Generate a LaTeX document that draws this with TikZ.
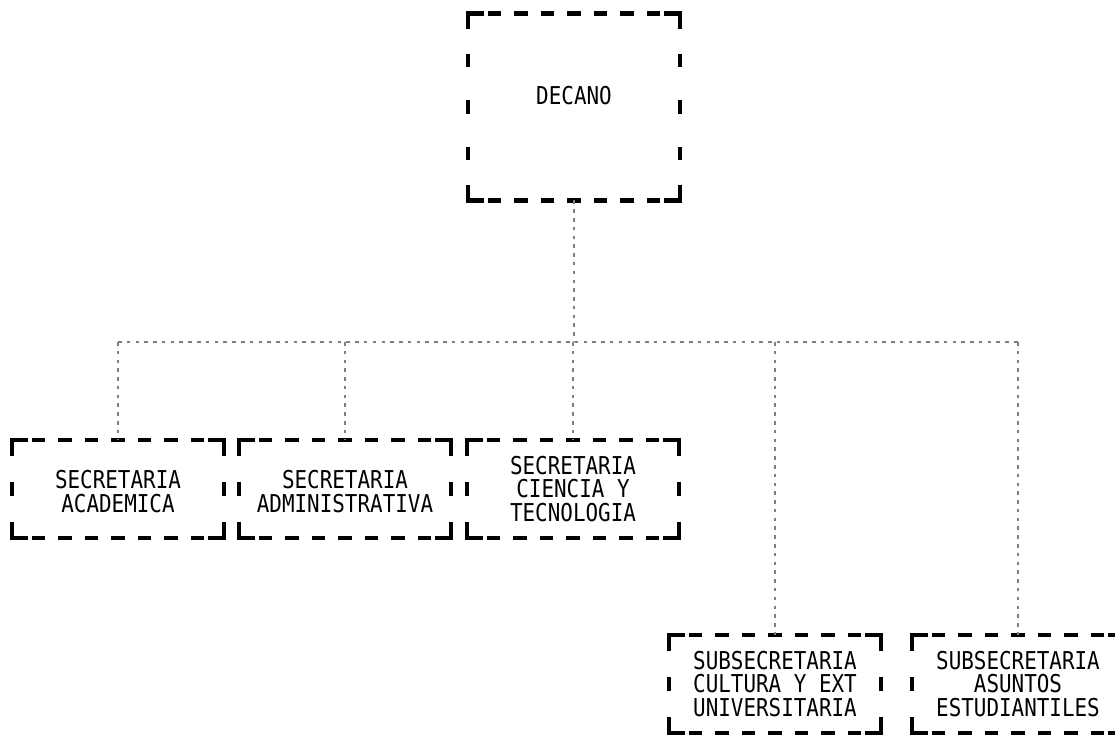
\documentclass[tikz,border=0pt]{standalone}
\usepackage{fontspec}
\newfontfamily\orgfont[FakeStretch=0.85]{DejaVu Sans Mono}
\usetikzlibrary{calc}
\tikzset{
  orgbox/.style={rectangle,inner sep=0pt,outer sep=0pt,minimum width=4.24cm,minimum height=1.96cm,align=center,font=\orgfont\fontsize{14}{13.2}\selectfont},
  headbox/.style={orgbox,minimum height=3.74cm},
  frameline/.style={line width=2.6pt,draw=black},
  link/.style={line width=0.6pt,draw=black!50,dash pattern=on 2pt off 3pt}
}
\newcommand{\framedash}{7.5}
\newcommand{\framecorner}{9pt}
% dashed frame with solid corners round a node: #2 steps across, #3 steps down
\newcommand{\orgframe}[3]{%
  \pgfpointdiff{\pgfpointanchor{#1}{south west}}{\pgfpointanchor{#1}{north east}}%
  \pgfgetlastxy{\framew}{\frameh}%
  \pgfmathsetmacro{\hgap}{\framew/#2-\framedash}%
  \pgfmathsetmacro{\vgap}{\frameh/#3-\framedash}%
  \pgfmathsetmacro{\halfdash}{\framedash/2}%
  \draw[frameline,dash pattern=on \framedash pt off \hgap pt,dash phase=\halfdash pt] (#1.north west) -- (#1.north east);
  \draw[frameline,dash pattern=on \framedash pt off \hgap pt,dash phase=\halfdash pt] (#1.south west) -- (#1.south east);
  \draw[frameline,dash pattern=on \framedash pt off \vgap pt,dash phase=\halfdash pt] (#1.north west) -- (#1.south west);
  \draw[frameline,dash pattern=on \framedash pt off \vgap pt,dash phase=\halfdash pt] (#1.north east) -- (#1.south east);
  \draw[frameline] ([yshift=-\framecorner]#1.north west) -- (#1.north west) -- ([xshift=\framecorner]#1.north west);
  \draw[frameline] ([yshift=-\framecorner]#1.north east) -- (#1.north east) -- ([xshift=-\framecorner]#1.north east);
  \draw[frameline] ([yshift=\framecorner]#1.south west) -- (#1.south west) -- ([xshift=\framecorner]#1.south west);
  \draw[frameline] ([yshift=\framecorner]#1.south east) -- (#1.south east) -- ([xshift=-\framecorner]#1.south east);
}
\begin{document}
\begin{tikzpicture}[x=0.02cm,y=-0.02cm]
  \useasboundingbox (0,0) rectangle (1115,737);
  \node[headbox] (dec) at (574,107) {DECANO\\\mbox{}};
  \node[orgbox] (aca) at (118,489) {\mbox{}\\SECRETARIA\\ACADEMICA};
  \node[orgbox] (adm) at (345,489) {\mbox{}\\SECRETARIA\\ADMINISTRATIVA};
  \node[orgbox] (cyt) at (573,489) {SECRETARIA\\CIENCIA Y\\TECNOLOGIA};
  \node[orgbox] (cult) at (775,684) {SUBSECRETARIA\\CULTURA Y EXT\\UNIVERSITARIA};
  \node[orgbox] (est) at (1018,684) {SUBSECRETARIA\\ASUNTOS\\ESTUDIANTILES};
  \coordinate (bus) at (574,342);

  % frames
  \orgframe{dec}{8}{4}
  \foreach \n in {aca,adm,cyt,cult,est} {\orgframe{\n}{8}{2}}

  % connectors
  \draw[link] (dec.south) -- (dec.south |- bus);
  \draw[link] (aca.north |- bus) -- (est.north |- bus);
  \foreach \n in {aca,adm,cyt,cult,est} {\draw[link] (\n.north |- bus) -- (\n.north);}
\end{tikzpicture}
\end{document}
